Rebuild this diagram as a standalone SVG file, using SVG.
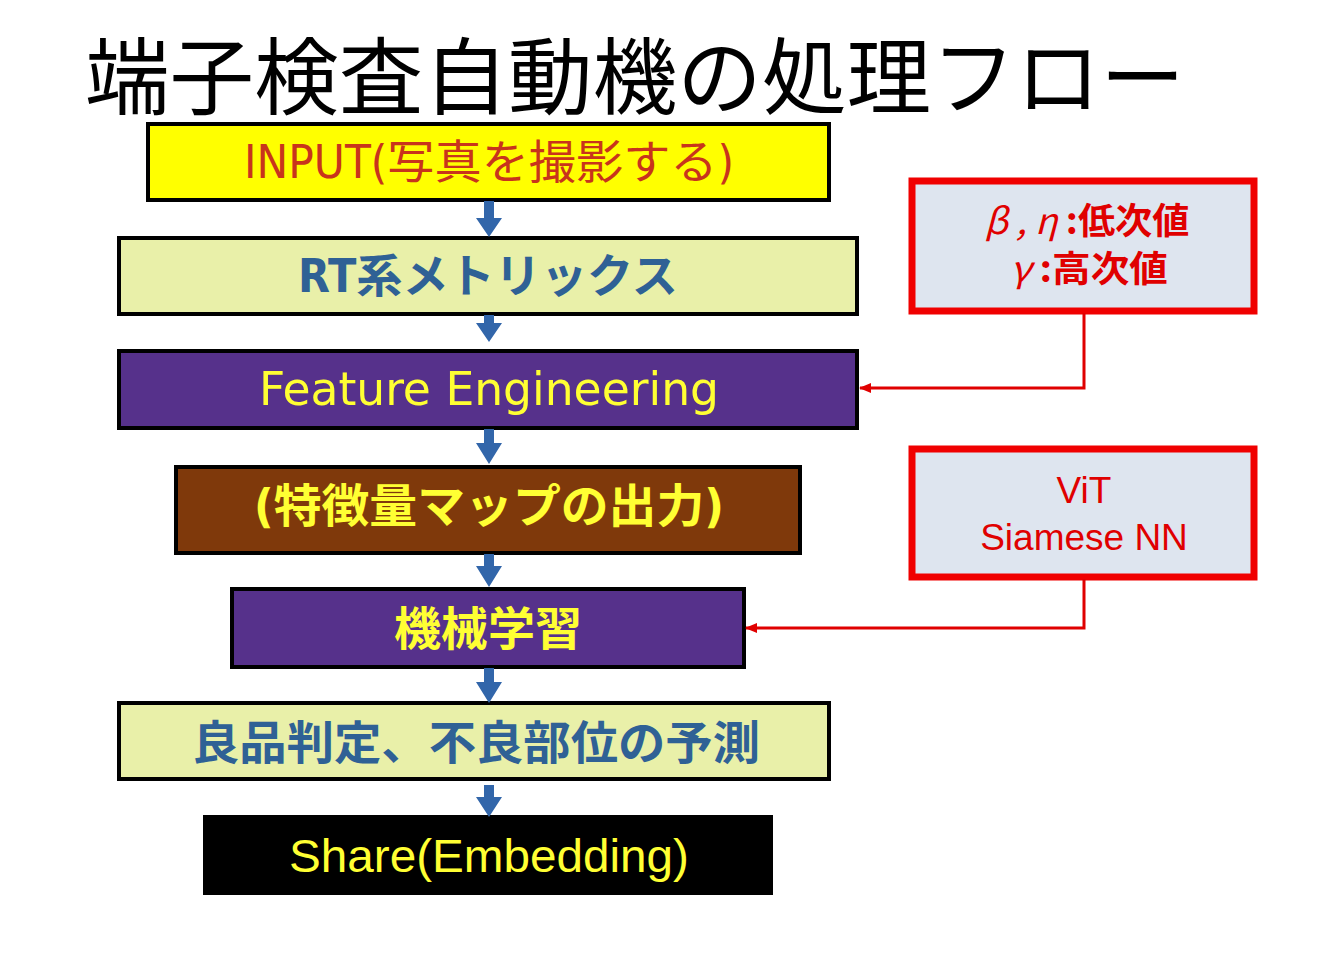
<svg xmlns="http://www.w3.org/2000/svg" width="1319" height="956" viewBox="0 0 1319 956">
<style>
.box{stroke:#000;stroke-width:4}
.lt{fill:#E9F0A9}
.pu{fill:#56318B}
.side{fill:#DEE5EF;stroke:#F00000;stroke-width:7}
.cj{font-family:"Noto Sans CJK JP","Liberation Sans",sans-serif;text-anchor:middle}
.cond{font-family:"DejaVu Sans Condensed","Noto Sans CJK JP",sans-serif;text-anchor:middle}
.ar{font-family:"Liberation Sans","Noto Sans CJK JP",sans-serif;text-anchor:middle}
.blue{fill:#2F6195}
.yel{fill:#FFFF33}
.red{fill:#E00000}
.bl{fill:#3266AA}
.rl{fill:none;stroke:#E00000;stroke-width:3}
</style>
<defs>
<marker id="rh" markerWidth="12" markerHeight="12" refX="11" refY="6" orient="auto" markerUnits="userSpaceOnUse">
<path d="M0,1 L12,6 L0,11 z" fill="#E00000"/>
</marker>
</defs>
<rect width="1319" height="956" fill="#fff"/>
<text x="635" y="108" class="cj" font-size="84" fill="#000" textLength="1100" lengthAdjust="spacingAndGlyphs">端子検査自動機の処理フロー</text>

<g id="n1"><rect class="box" x="148" y="124" width="681" height="76" fill="#FFFF00"/>
<text x="489" y="178" class="cond" font-size="46" fill="#C8341C" textLength="490" lengthAdjust="spacingAndGlyphs">INPUT(写真を撮影する)</text></g>

<g id="n2"><rect class="box lt" x="119" y="238" width="738" height="76"/>
<text x="488" y="292" class="cond blue" font-size="46" font-weight="bold" textLength="380" lengthAdjust="spacingAndGlyphs">RT系メトリックス</text></g>

<g id="n3"><rect class="box pu" x="119" y="351" width="738" height="77"/>
<text x="489" y="405" class="cond yel" font-size="46" textLength="460" lengthAdjust="spacingAndGlyphs">Feature Engineering</text></g>

<g id="n4"><rect class="box" x="176" y="467" width="624" height="86" fill="#7F390B"/>
<text x="489" y="522" class="cond yel" font-size="46" font-weight="bold" textLength="470" lengthAdjust="spacingAndGlyphs">(特徴量マップの出力)</text></g>

<g id="n5"><rect class="box pu" x="232" y="589" width="512" height="78"/>
<text x="488" y="645" class="cj yel" font-size="46" font-weight="bold" textLength="188" lengthAdjust="spacingAndGlyphs">機械学習</text></g>

<g id="n6"><rect class="box lt" x="119" y="703" width="710" height="76"/>
<text x="476" y="759" class="cj blue" font-size="46" font-weight="bold" textLength="568" lengthAdjust="spacingAndGlyphs">良品判定、不良部位の予測</text></g>

<g id="n7"><rect x="203" y="815" width="570" height="80" fill="#000"/>
<text x="489" y="872" class="ar yel" font-size="46" textLength="400" lengthAdjust="spacingAndGlyphs">Share(Embedding)</text></g>

<g id="s1"><rect class="side" x="912" y="181" width="342" height="130"/>
<text x="1087" y="234" class="cj red" font-size="36" font-weight="bold" textLength="205" lengthAdjust="spacingAndGlyphs"><tspan font-style="italic" font-weight="normal">β , η </tspan>:低次値</text>
<text x="1089" y="282" class="cj red" font-size="36" font-weight="bold" textLength="158" lengthAdjust="spacingAndGlyphs"><tspan font-style="italic" font-weight="normal">γ </tspan>:高次値</text></g>

<g id="s2"><rect class="side" x="912" y="449" width="342" height="128"/>
<text x="1084" y="503" class="ar red" font-size="37">ViT</text>
<text x="1084" y="550" class="ar red" font-size="37">Siamese NN</text></g>

<g id="connectors">
<path class="bl" d="M484,201 h10 v17 h8 l-13,19 l-13,-19 h8 z"/>
<path class="bl" d="M484,315 h10 v8 h8 l-13,19 l-13,-19 h8 z"/>
<path class="bl" d="M484,429 h10 v14 h8 l-13,21 l-13,-21 h8 z"/>
<path class="bl" d="M484,554 h10 v12 h8 l-13,21 l-13,-21 h8 z"/>
<path class="bl" d="M484,668 h10 v14 h8 l-13,21 l-13,-21 h8 z"/>
<path class="bl" d="M484,785 h10 v12 h8 l-13,20 l-13,-20 h8 z"/>
<path class="rl" d="M1084,313 V388 H860" marker-end="url(#rh)"/>
<path class="rl" d="M1084,579 V628 H746" marker-end="url(#rh)"/>
</g>
</svg>
